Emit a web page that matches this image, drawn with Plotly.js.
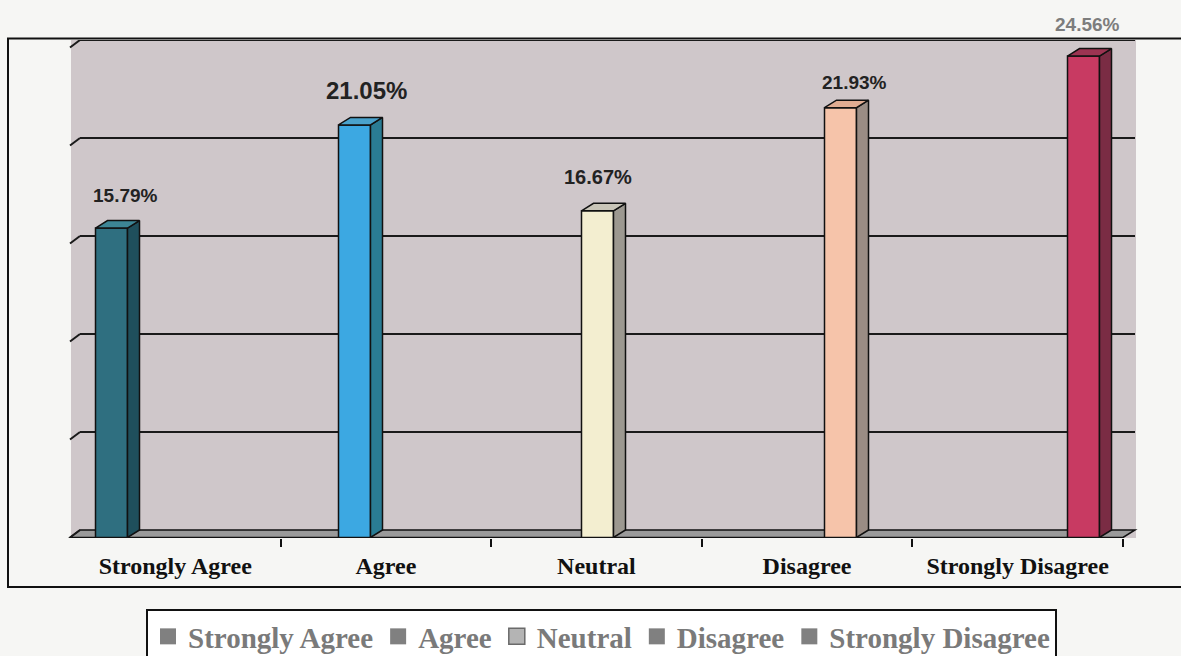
<!DOCTYPE html>
<html>
<head>
<meta charset="utf-8">
<script src="https://cdn.plot.ly/plotly-3.0.1.min.js"></script>
<style>
html,body{margin:0;padding:0;background:#f6f6f4;}
#chart{width:1181px;height:656px;}
</style>
</head>
<body>
<div id="chart"></div>
<script>
// ---- data ----
const categories = ["Strongly Agree", "Agree", "Neutral", "Disagree", "Strongly Disagree"];
const values = [15.79, 21.05, 16.67, 21.93, 24.56];
const valueLabels = ["15.79%", "21.05%", "16.67%", "21.93%", "24.56%"];
const gridVals = [0, 5, 10, 15, 20, 25];

// ---- styles ----
const frontColors = ["#2f6f80", "#3ca8e2", "#f3eed0", "#f6c4aa", "#c83a62"];
const sideColors  = ["#1f4f5c", "#2a7c94", "#9c9890", "#9a8c84", "#7a2c44"];
const topColors   = ["#3d8595", "#4aa2cc", "#c9c5b8", "#e0ac92", "#9c3452"];
const labelSize   = [19, 24, 20, 19, 19];
const labelColor  = ["#222", "#222", "#222", "#222", "#7d7d7d"];
const labelDx     = [14, 12, 0, 14, 4];
const labelDy     = [25, 27, 26, 18, 24];
const legendFill  = ["#808080", "#808080", "#b4b4b4", "#808080", "#808080"];

// geometry (plot area 71..1136 x 40..538 px)
const L = 71, W = 1065, T = 40, H = 498;
const pxPerUnitX = 243, pxPerUnitY = 19.6;
const barW = 32 / pxPerUnitX;     // front face width
const sx = 12 / pxPerUnitX;       // depth offset x
const d = 7.5 / pxPerUnitY;       // depth offset y
const px = X => (X - L) / W;
const py = Y => (538 - Y) / H;

const idx = categories.map((c, i) => i);
const traces = [];

// front faces
traces.push({
  type: "bar", x: idx, y: values, base: values.map(() => -d), width: barW,
  marker: {color: frontColors, line: {color: "#111", width: 1.5}},
  showlegend: false, hoverinfo: "skip"
});

// side and top faces
idx.forEach(i => {
  const v = values[i];
  const xr = i + barW / 2, xl = i - barW / 2;
  traces.push({
    type: "scatter", mode: "lines", fill: "toself",
    x: [xr, xr + sx, xr + sx, xr, xr], y: [-d, 0, v, v - d, -d],
    fillcolor: sideColors[i], line: {color: "#111", width: 1.5},
    showlegend: false, hoverinfo: "skip"
  });
  traces.push({
    type: "scatter", mode: "lines", fill: "toself",
    x: [xl, xl + sx, xr + sx, xr, xl], y: [v - d, v, v, v - d, v - d],
    fillcolor: topColors[i], line: {color: "#111", width: 1.5},
    showlegend: false, hoverinfo: "skip"
  });
});

// invisible trace for category axis
traces.push({
  type: "scatter", mode: "markers", x: categories, y: values, xaxis: "x2",
  marker: {opacity: 0}, showlegend: false, hoverinfo: "skip"
});

// legend entries
categories.forEach((c, i) => {
  traces.push({
    type: "scatter", mode: "markers", x: [null], y: [null], name: c,
    marker: {symbol: "square", size: 18, color: legendFill[i], line: {color: "#6a6a6a", width: i === 2 ? 1.5 : 0}},
    hoverinfo: "skip"
  });
});

// shapes
const shapes = [];
// outer frame
shapes.push({type: "rect", xref: "paper", yref: "paper", x0: px(8), x1: px(1195), y0: py(587), y1: py(38.5),
  line: {color: "#111", width: 2}, fillcolor: "rgba(0,0,0,0)", layer: "below"});
// floor
shapes.push({type: "path", xref: "paper", yref: "y",
  path: `M ${px(70)},${-d} L ${px(1123)},${-d} L ${px(1135)},0 L ${px(80)},0 Z`,
  fillcolor: "#9a9a9a", line: {color: "#111", width: 1.5}, layer: "below"});
// gridlines and left slashes
gridVals.forEach(g => {
  if (g > 0) {
    shapes.push({type: "line", xref: "paper", yref: "y", x0: px(80), x1: px(1135), y0: g, y1: g,
      line: {color: "#1a1a1a", width: 2}, layer: "below"});
  }
  shapes.push({type: "line", xref: "paper", yref: "y", x0: px(70), x1: px(80), y0: g - d, y1: g,
    line: {color: "#1a1a1a", width: 2}, layer: "below"});
});

// value labels
const annotations = idx.map(i => ({
  x: i, y: values[i], xref: "x", yref: "y", text: "<b>" + valueLabels[i] + "</b>",
  showarrow: false, xshift: labelDx[i], yshift: labelDy[i], yanchor: "middle",
  font: {family: "Liberation Sans, Arial, sans-serif", size: labelSize[i], color: labelColor[i]}
}));

const layout = {
  width: 1181, height: 656,
  margin: {l: L, r: 1181 - L - W, t: T, b: 656 - T - H, pad: 0, autoexpand: false},
  paper_bgcolor: "#f6f6f4",
  plot_bgcolor: "#cfc7ca",
  showlegend: true,
  xaxis: {range: [-(111.5 - L) / pxPerUnitX, -(111.5 - L) / pxPerUnitX + W / pxPerUnitX],
    showticklabels: false, ticks: "", showgrid: false, zeroline: false, showline: false, fixedrange: true},
  xaxis2: {type: "category", overlaying: "x", anchor: "y", side: "bottom",
    categoryarray: categories, categoryorder: "array",
    range: [-0.495, -0.495 + W / 210.6], tickson: "boundaries",
    ticks: "outside", ticklen: 8, tickwidth: 2, tickcolor: "#111",
    showgrid: false, zeroline: false, showline: false, ticklabelstandoff: 11,
    tickfont: {family: "Liberation Serif, Times New Roman, serif", size: 24, color: "#111", weight: "bold"},
    fixedrange: true},
  yaxis: {range: [-(538 - 530) / pxPerUnitY, 25], showgrid: false, zeroline: false,
    showticklabels: false, ticks: "", showline: false, fixedrange: true},
  legend: {orientation: "h", x: px(601.5), xanchor: "center", y: py(609), yanchor: "top",
    bgcolor: "#ffffff", bordercolor: "#111", borderwidth: 2,
    font: {family: "Liberation Serif, Times New Roman, serif", size: 29, color: "#7a7a7a", weight: "bold"},
    itemwidth: 30, tracegroupgap: 0, valign: "middle"},
  shapes: shapes,
  annotations: annotations
};

Plotly.newPlot("chart", traces, layout, {displayModeBar: false, staticPlot: true});
</script>
</body>
</html>
